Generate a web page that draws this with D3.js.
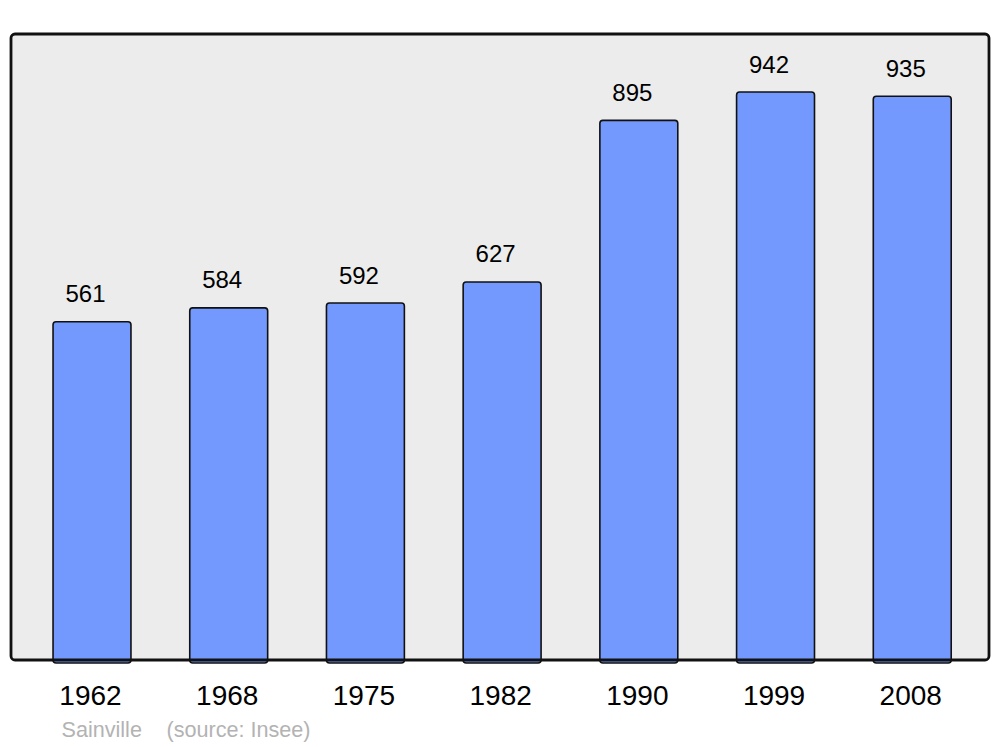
<!DOCTYPE html>
<html>
<head>
<meta charset="utf-8">
<script src="https://cdn.jsdelivr.net/npm/d3@7"></script>
<style>
  html, body { margin: 0; padding: 0; background: #ffffff; }
  svg { display: block; font-family: "Liberation Sans", Arial, sans-serif; }
</style>
</head>
<body>
<svg id="chart" width="1000" height="747"></svg>
<script>
const years = ["1962", "1968", "1975", "1982", "1990", "1999", "2008"];
const population = [561, 584, 592, 627, 895, 942, 935];
const commune = "Sainville";
const source = "(source: Insee)";

const svg = d3.select("#chart");
const panel = { left: 11, right: 989, top: 34, bottom: 660 };

const x = d3.scaleBand()
  .domain(years)
  .range([23.65, 980.6])
  .paddingInner(0.43)
  .paddingOuter(0.215);

const y = d3.scaleLinear()
  .domain([0, 1038.2])
  .range([panel.bottom, panel.top]);

// panel background
svg.append("rect")
  .attr("x", panel.left)
  .attr("y", panel.top)
  .attr("width", panel.right - panel.left)
  .attr("height", panel.bottom - panel.top)
  .attr("rx", 4).attr("ry", 4)
  .attr("fill", "#ececec");

const data = years.map((yr, i) => ({ year: yr, value: population[i] }));

// bars
svg.append("g")
  .selectAll("rect")
  .data(data)
  .join("rect")
  .attr("x", d => x(d.year))
  .attr("y", d => y(d.value))
  .attr("width", x.bandwidth())
  .attr("height", d => y(0) - y(d.value) + 3)
  .attr("rx", 3).attr("ry", 3)
  .attr("fill", "#7399ff")
  .attr("stroke", "#111111")
  .attr("stroke-width", 1.6);

// panel border (drawn on top)
svg.append("rect")
  .attr("x", panel.left)
  .attr("y", panel.top)
  .attr("width", panel.right - panel.left)
  .attr("height", panel.bottom - panel.top)
  .attr("rx", 4).attr("ry", 4)
  .attr("fill", "none")
  .attr("stroke", "#111111")
  .attr("stroke-width", 2.8);

// value labels
svg.append("g")
  .selectAll("text")
  .data(data)
  .join("text")
  .attr("x", d => x(d.year) + x.bandwidth() / 2 - 6.5)
  .attr("y", d => y(d.value) - 19.5)
  .attr("text-anchor", "middle")
  .attr("font-size", 24)
  .attr("fill", "#000000")
  .text(d => d.value);

// year axis labels
const xAxis = d3.axisBottom(x).tickSize(0).tickPadding(0);
const ax = svg.append("g")
  .attr("transform", `translate(-1.5, 0)`)
  .call(xAxis);
ax.select(".domain").remove();
ax.selectAll("text")
  .attr("y", 705)
  .attr("dy", null)
  .attr("font-size", 28)
  .attr("font-family", "'Liberation Sans', Arial, sans-serif")
  .attr("fill", "#000000");

// source line
svg.append("text")
  .attr("x", 61.5)
  .attr("y", 737)
  .attr("font-size", 21.6)
  .attr("fill", "#b3b3b3")
  .text(commune);
svg.append("text")
  .attr("x", 166.5)
  .attr("y", 737)
  .attr("font-size", 21.6)
  .attr("fill", "#b3b3b3")
  .text(source);
</script>
</body>
</html>
